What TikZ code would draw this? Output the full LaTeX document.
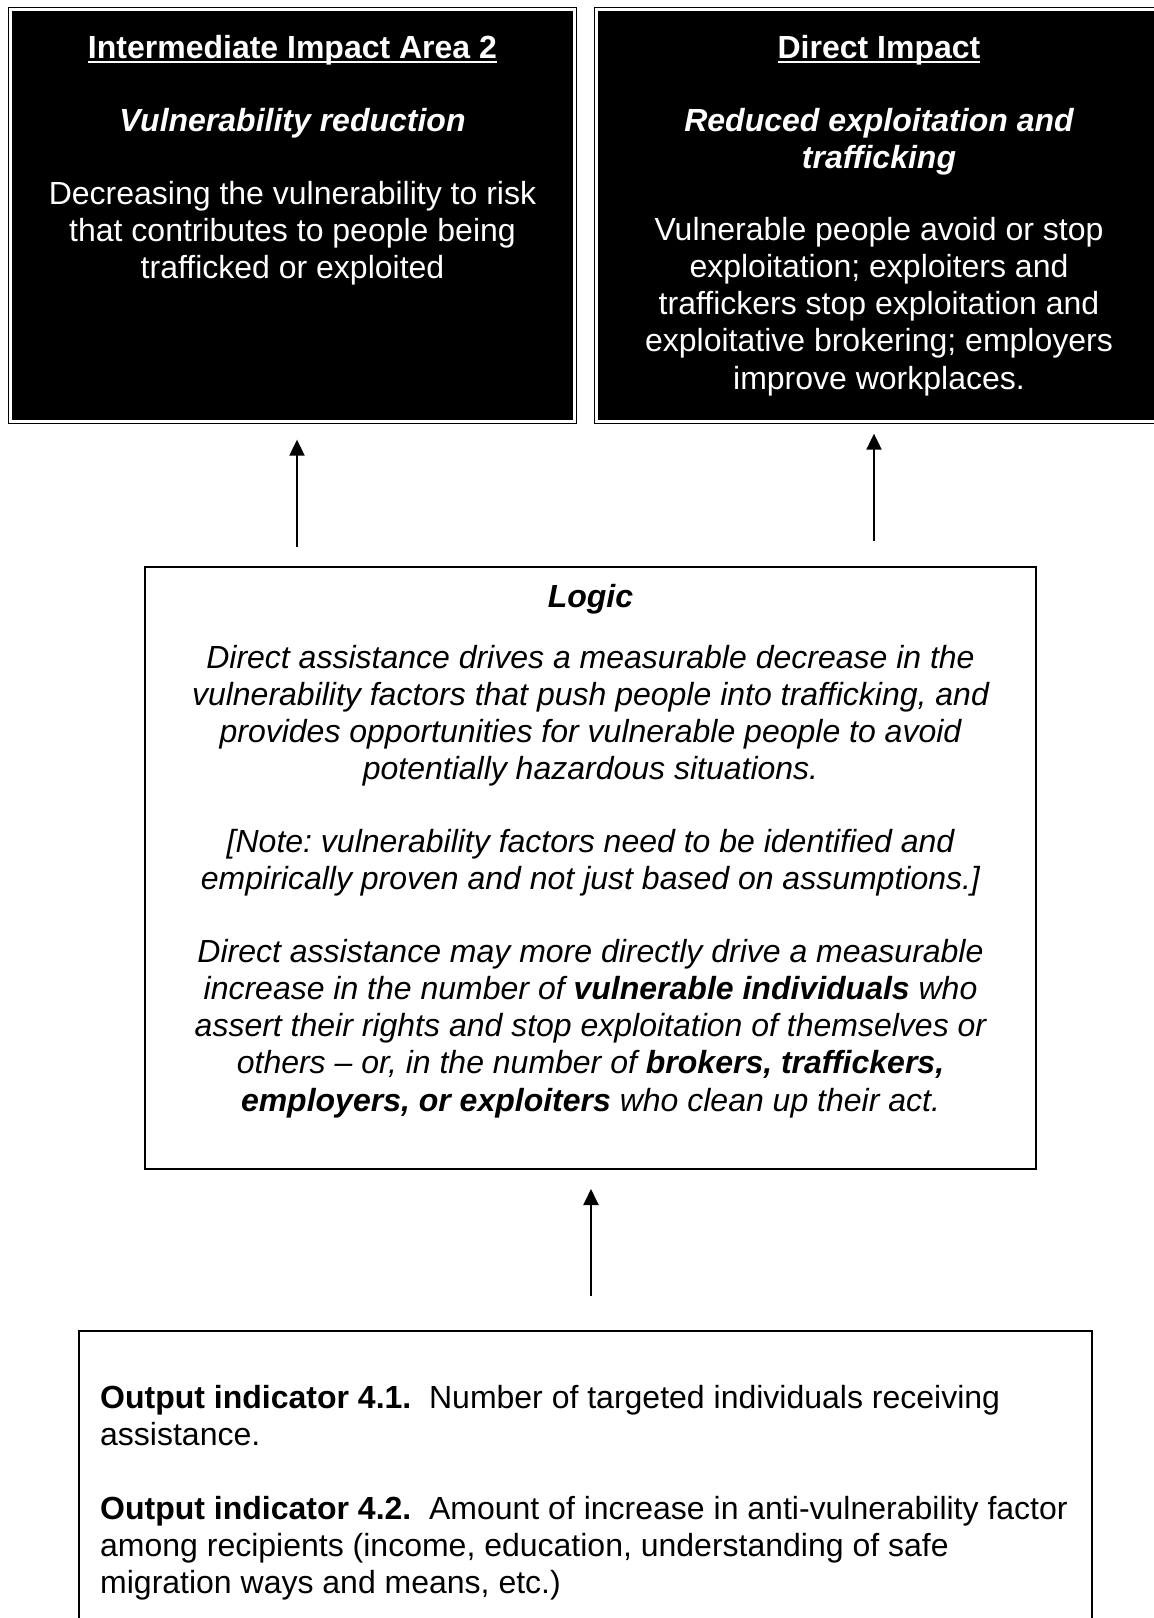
\documentclass[tikz,border=0pt]{standalone}
\usepackage{fontspec}
\setmainfont{Liberation Sans}
\usetikzlibrary{arrows.meta,calc}
\frenchspacing

% underlined heading with a thicker rule
\newcommand\ulinetext[1]{\leavevmode\setbox0\hbox{#1}\rlap{\rule[-5pt]{\wd0}{2.4pt}}\box0}

% multi-line texts are anchored at the baseline of their last line
\tikzset{
  impactbox/.style={draw=black, double=white, double distance=2.6pt, line width=1.3pt,
    fill=black, minimum height=412pt, inner sep=0pt},
  plainbox/.style={draw=black, line width=2pt, fill=white, inner sep=0pt},
  txt/.style={font=\fontsize{32}{37.2}\selectfont, inner sep=0pt, align=center, anchor=base},
  wtxt/.style={txt, text=white},
  arr/.style={line width=2pt, -{Triangle[length=16pt,width=15pt]}},
}

\begin{document}
\begin{tikzpicture}[x=1pt,y=-1pt]
\useasboundingbox (0,0) rectangle (1154,1618);

% boxes
\node[impactbox, minimum width=564pt] (imp) at (292.5,215.5) {};
\node[impactbox, minimum width=565pt] (dir) at (879,215.5) {};
\node[plainbox, minimum width=891pt, minimum height=602pt] (logic) at (590.5,868) {};
\node[plainbox, minimum width=1013pt, minimum height=319pt] (out) at (585.5,1490.5) {};

% intermediate impact area
\node[wtxt, font=\fontsize{32}{37.2}\selectfont\bfseries] (impt) at (292.5,58) {\ulinetext{Intermediate Impact Area 2}};
\node[wtxt, font=\fontsize{32}{37.2}\selectfont\bfseries\itshape] (imps) at (292.5,131.5) {Vulnerability reduction};
\node[wtxt] (impb) at (292.5,278.9) {Decreasing the vulnerability to risk\\that contributes to people being\\trafficked or exploited};

% direct impact
\node[wtxt, font=\fontsize{32}{37.2}\selectfont\bfseries] (dirt) at (879,58) {\ulinetext{Direct Impact}};
\node[wtxt, font=\fontsize{32}{37.2}\selectfont\bfseries\itshape] (dirs) at (879,168.7) {Reduced exploitation and\\trafficking};
\node[wtxt] (dirb) at (879,389) {Vulnerable people avoid or stop\\exploitation; exploiters and\\traffickers stop exploitation and\\exploitative brokering; employers\\improve workplaces.};

% logic
\node[txt, font=\fontsize{32}{37.2}\selectfont\bfseries\itshape] (logt) at (590.5,607.5) {Logic};
\node[txt, font=\fontsize{32}{37.2}\selectfont\itshape] (log1) at (590.5,779.6) {Direct assistance drives a measurable decrease in the\\vulnerability factors that push people into trafficking, and\\provides opportunities for vulnerable people to avoid\\potentially hazardous situations.};
\node[txt, font=\fontsize{32}{37.2}\selectfont\itshape] (log2) at (590.5,889.7) {[Note: vulnerability factors need to be identified and\\empirically proven and not just based on assumptions.]};
\node[txt, font=\fontsize{32}{37.2}\selectfont\itshape] (log3) at (590.5,1111) {Direct assistance may more directly drive a measurable\\increase in the number of \textbf{vulnerable individuals} who\\assert their rights and stop exploitation of themselves or\\others -- or, in the number of \textbf{brokers, traffickers,}\\\textbf{employers, or exploiters} who clean up their act.};

% outputs
\node[txt, align=left, anchor=base west] (o1) at (100,1445.2) {\textbf{Output indicator 4.1.}\ \ Number of targeted individuals receiving\\assistance.};
\node[txt, align=left, anchor=base west] (o2) at (100,1593.9) {\textbf{Output indicator 4.2.}\ \ Amount of increase in anti-vulnerability factor\\among recipients (income, education, understanding of safe\\migration ways and means, etc.)};

% connectors
\draw[arr] ($(imp.south |- logic.north)+(4.5,-19)$) -- ($(imp.south)+(4.5,17.5)$);
\draw[arr] ($(dir.south |- logic.north)+(-5,-25)$) -- ($(dir.south)+(-5,11.5)$);
\draw[arr] ($(out.north)+(5.5,-34)$) -- ($(logic.south)+(0.5,19)$);
\end{tikzpicture}
\end{document}
